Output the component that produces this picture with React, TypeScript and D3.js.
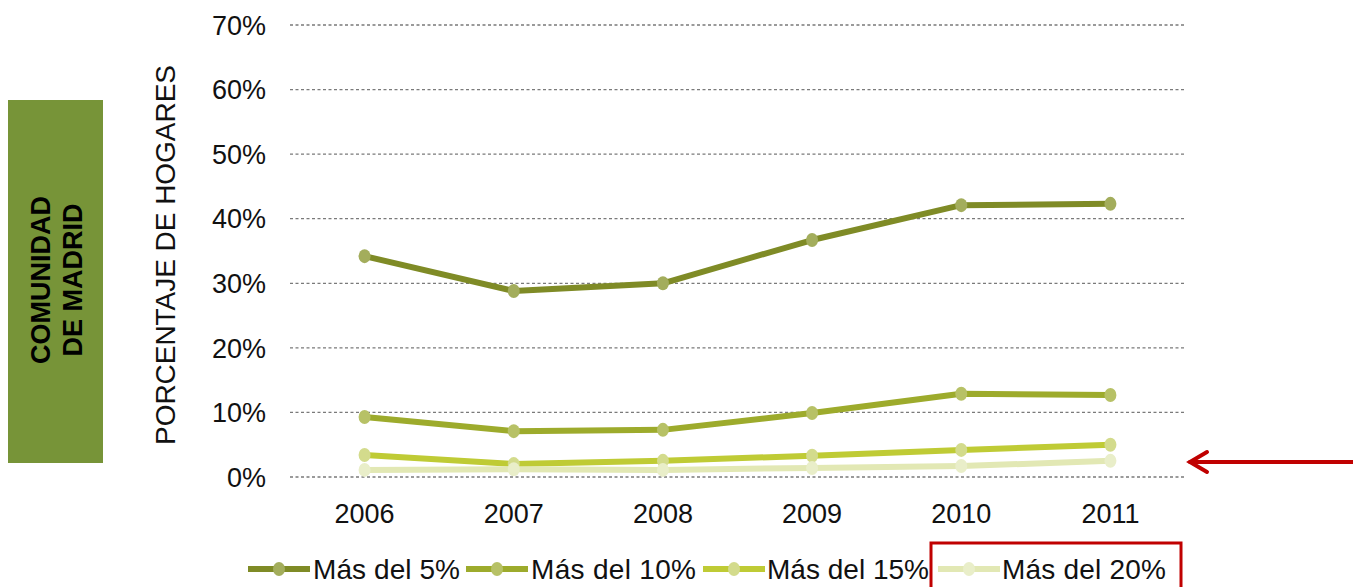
import { useMemo } from "react"
import * as d3 from "d3"

// data
const years = ["2006", "2007", "2008", "2009", "2010", "2011"]
const mas5 = [34.2, 28.8, 30.0, 36.7, 42.1, 42.3]
const mas10 = [9.3, 7.1, 7.3, 9.9, 12.9, 12.7]
const mas15 = [3.4, 2.0, 2.5, 3.3, 4.2, 5.0]
const mas20 = [1.1, 1.2, 1.1, 1.4, 1.7, 2.5]
const seriesNames = ["Más del 5%", "Más del 10%", "Más del 15%", "Más del 20%"]
const yTicks = [0, 10, 20, 30, 40, 50, 60, 70]

const lineColors = ["#7f8b26", "#9dab2c", "#bfcb35", "#e2e8b4"]
const dotColors = ["#a3ad5c", "#b7c166", "#d3db8c", "#e9eec9"]

const FONT = "'Liberation Sans', Arial, sans-serif"

export default function App() {
  const width = 1353
  const height = 587
  const plot = { left: 290, right: 1185, top: 25, bottom: 477 }

  const x = useMemo(
    () => d3.scaleBand().domain(years).range([plot.left, plot.right]),
    []
  )
  const y = useMemo(
    () => d3.scaleLinear().domain([0, 70]).range([plot.bottom, plot.top]),
    []
  )

  const allSeries = [mas5, mas10, mas15, mas20]
  const line = d3
    .line<number>()
    .x((_, i) => (x(years[i]) || 0) + x.bandwidth() / 2)
    .y((d) => y(d))

  // legend slots: sample start x, text start x, text width
  const legendSlots = [
    { sx: 248, tx: 313, tw: 147 },
    { sx: 466, tx: 531, tw: 165 },
    { sx: 703, tx: 767, tw: 162 },
    { sx: 938, tx: 1002, tw: 164 },
  ]
  const legendY = 569

  return (
    <svg width={width} height={height} style={{ display: "block", position: "absolute", left: 0, top: 0 }}>
      <rect width={width} height={height} fill="#fff" />

      {/* side label */}
      <rect x={8} y={100} width={95} height={363} fill="#779438" />
      <g transform="translate(56,280) rotate(-90)" fontFamily={FONT} fontWeight="bold" fontSize={27} fill="#000" textAnchor="middle">
        <text x={0} y={-6}>COMUNIDAD</text>
        <text x={0} y={26}>DE MADRID</text>
      </g>

      {/* y axis title */}
      <text
        transform="translate(175,255) rotate(-90)"
        textAnchor="middle"
        fontFamily={FONT}
        fontSize={28}
        textLength={380}
        fill="#111"
      >
        PORCENTAJE DE HOGARES
      </text>

      {/* gridlines */}
      {yTicks.map((t) => (
        <line
          key={t}
          x1={plot.left}
          x2={plot.right}
          y1={y(t)}
          y2={y(t)}
          stroke="#7a7a7a"
          strokeWidth={1.3}
          strokeDasharray="3 2.5"
        />
      ))}

      {/* y tick labels */}
      {yTicks.map((t) => (
        <text
          key={t}
          x={266}
          y={y(t)}
          dy="0.36em"
          textAnchor="end"
          fontFamily={FONT}
          fontSize={27}
          fill="#111"
        >
          {t}%
        </text>
      ))}

      {/* x tick labels */}
      {years.map((yr) => (
        <text
          key={yr}
          x={(x(yr) || 0) + x.bandwidth() / 2}
          y={523}
          textAnchor="middle"
          fontFamily={FONT}
          fontSize={27}
          fill="#111"
        >
          {yr}
        </text>
      ))}

      {/* series */}
      {allSeries.map((s, si) => (
        <g key={si}>
          <path d={line(s) || ""} fill="none" stroke={lineColors[si]} strokeWidth={6} strokeLinejoin="round" />
          {s.map((v, i) => (
            <ellipse
              key={i}
              cx={(x(years[i]) || 0) + x.bandwidth() / 2}
              cy={y(v)}
              rx={6}
              ry={7}
              fill={dotColors[si]}
            />
          ))}
        </g>
      ))}

      {/* legend */}
      {seriesNames.map((name, i) => (
        <g key={name}>
          <line
            x1={legendSlots[i].sx}
            x2={legendSlots[i].sx + 62}
            y1={legendY}
            y2={legendY}
            stroke={lineColors[i]}
            strokeWidth={6}
          />
          <ellipse cx={legendSlots[i].sx + 31} cy={legendY} rx={6} ry={7} fill={dotColors[i]} />
          <text
            x={legendSlots[i].tx}
            y={legendY}
            dy="0.36em"
            fontFamily={FONT}
            fontSize={28}
            textLength={legendSlots[i].tw}
            fill="#111"
          >
            {name}
          </text>
        </g>
      ))}

      {/* highlight box around last legend item */}
      <rect x={931} y={543} width={250} height={50} fill="none" stroke="#c00000" strokeWidth={3} />

      {/* red arrow */}
      <g stroke="#c00000" strokeWidth={4} fill="none" strokeLinecap="round">
        <line x1={1190} y1={462} x2={1353} y2={462} />
        <polyline points="1207,452 1190,462 1207,472" strokeLinejoin="miter" />
      </g>
    </svg>
  )
}
